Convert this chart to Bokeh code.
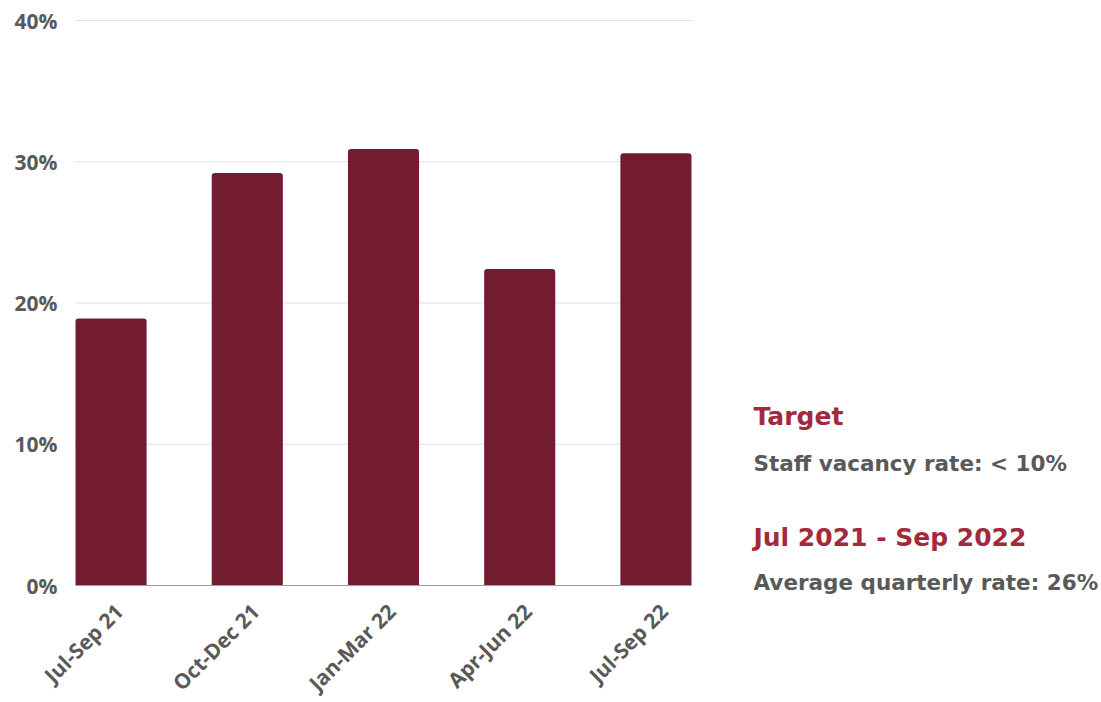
from bokeh.plotting import figure
from bokeh.models import Range1d, ColumnDataSource
from bokeh.core.properties import value
from bokeh.embed import file_html
from bokeh.resources import INLINE
import math

# ---- data ----
quarters = ["Jul-Sep 21", "Oct-Dec 21", "Jan-Mar 22", "Apr-Jun 22", "Jul-Sep 22"]
vacancy_rate = [0.189, 0.292, 0.309, 0.224, 0.306]
y_ticks = [0.0, 0.1, 0.2, 0.3, 0.4]
side_titles = ["Target", "Jul 2021 - Sep 2022"]
side_notes = ["Staff vacancy rate: < 10%", "Average quarterly rate: 26%"]

BAR = "#731c30"
RED = "#a32a3c"
GREY = "#595959"

# ---- geometry (canvas pixels) of the chart area ----
W, H = 1100, 702
FL, FR, FT, FB = 75, 691, 20, 585
X0, X1 = -0.261, len(quarters) - 1 + 0.261
Y0, Y1 = 0.0, 0.4
SX = (X1 - X0) / (FR - FL)      # data units per px
SY = (Y1 - Y0) / (FB - FT)

def px2x(px):
    return X0 + (px - FL) * SX

def py2y(py):
    return Y0 + (FB - py) * SY

xs = list(range(len(quarters)))
src = ColumnDataSource(dict(x=xs, top=vacancy_rate, zero=[0.0] * len(xs), label=quarters))

p = figure(width=W, height=H, output_backend="svg", toolbar_location=None,
           x_range=Range1d(px2x(0), px2x(W)), y_range=Range1d(py2y(H), py2y(0)),
           min_border=0)
p.outline_line_color = None
p.axis.visible = False
p.grid.visible = False

# gridlines (from the y ticks)
grid_y = [t for t in y_ticks if t > 0]
p.segment(x0=[X0] * len(grid_y), x1=[X1] * len(grid_y), y0=grid_y, y1=grid_y,
          line_color="#e0e0e0", line_width=1)

# bars
p.vbar(x="x", top="top", bottom=0, width=0.522, source=src, fill_color=BAR,
       line_color=None, border_radius=(3, 3, 0, 0))

# x axis line
p.segment(x0=[X0], x1=[X1], y0=[Y0], y1=[Y0], line_color="#9e9e9e", line_width=1)

# y tick labels
p.text(x=[px2x(57)] * len(y_ticks), y=y_ticks,
       text=[f"{round(t * 100)}%" for t in y_ticks],
       text_align="right", text_baseline="middle", text_color=GREY,
       text_font=value("Open Sans"), text_font_style="bold", text_font_size="21px")

# x tick labels (rotated)
p.text(x="x", y="zero", text="label", source=src, angle=math.pi / 4,
       text_align="right", text_baseline="middle", x_offset=8, y_offset=22,
       text_color=GREY, text_font=value("Open Sans"), text_font_style="bold",
       text_font_size="21px")

# side texts
TX = 753
p.text(x=[px2x(TX)] * 2, y=[py2y(416), py2y(537)], text=side_titles, text_color=RED,
       text_font=value("DejaVu Sans"), text_font_style="bold", text_font_size="25px",
       text_baseline="middle", text_align="left")
p.text(x=[px2x(TX)] * 2, y=[py2y(463), py2y(582)], text=side_notes, text_color=GREY,
       text_font=value("DejaVu Sans"), text_font_style="bold", text_font_size="21.5px",
       text_baseline="middle", text_align="left")

open("out.html", "w").write(file_html(p, INLINE))
